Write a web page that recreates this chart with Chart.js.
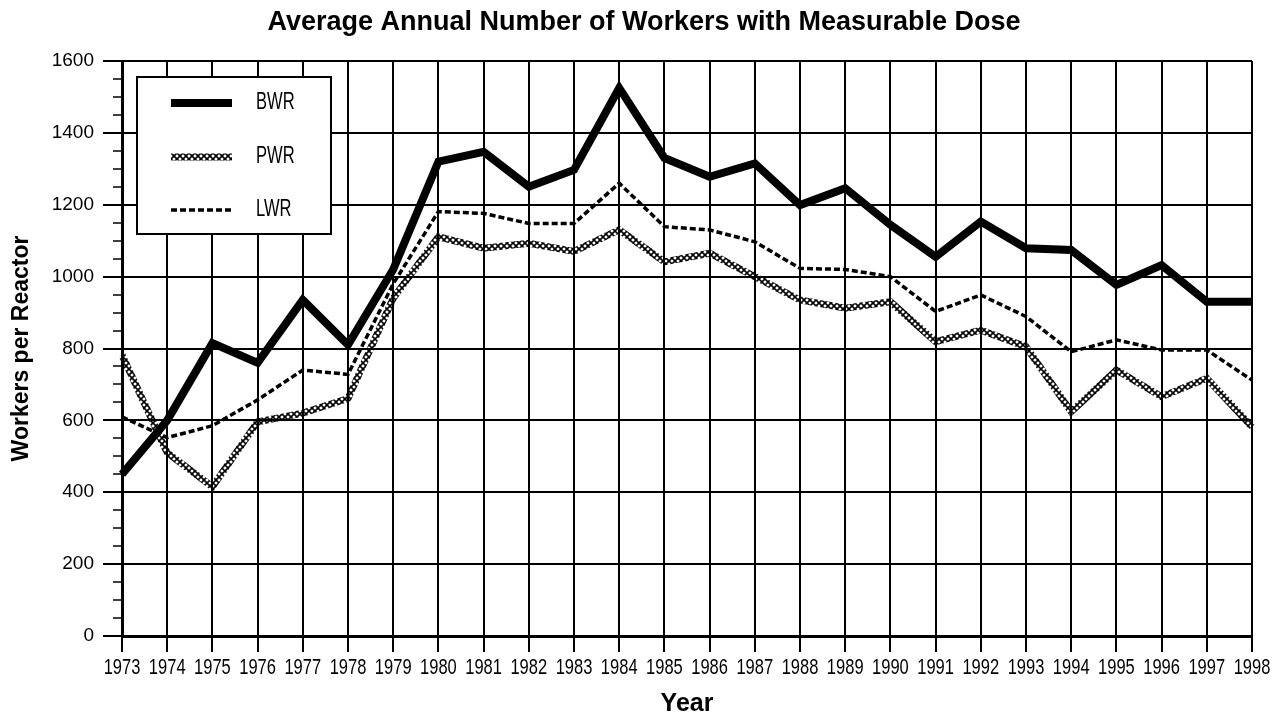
<!DOCTYPE html>
<html><head><meta charset="utf-8">
<script src="https://cdn.jsdelivr.net/npm/chart.js@4"></script>
<style>html,body{margin:0;padding:0;background:#fff}</style>
</head><body>
<canvas id="c" width="1288" height="719" style="display:block;width:1288px;height:719px"></canvas>
<script>
const years = ['1973','1974','1975','1976','1977','1978','1979','1980','1981','1982','1983','1984','1985','1986','1987','1988','1989','1990','1991','1992','1993','1994','1995','1996','1997','1998'];
const bwr = [450, 600, 815, 760, 935, 810, 1020, 1320, 1347, 1250, 1297, 1525, 1330, 1278, 1315, 1199, 1246, 1144, 1055, 1153, 1079, 1074, 977, 1032, 930, 930];
const pwr = [782, 510, 415, 596, 620, 661, 940, 1111, 1079, 1093, 1070, 1130, 1041, 1065, 1000, 935, 912, 930, 819, 851, 805, 624, 740, 666, 717, 582];
const lwr = [610, 552, 585, 657, 740, 728, 980, 1181, 1176, 1148, 1148, 1260, 1139, 1130, 1097, 1023, 1020, 1000, 903, 949, 889, 791, 824, 796, 796, 712];
const yTicks = [0, 200, 400, 600, 800, 1000, 1200, 1400, 1600];

const canvas = document.getElementById('c');
const ctx = canvas.getContext('2d');
const SANS = '"Liberation Sans", Arial, Helvetica, sans-serif';

function xPattern(){
  const t = document.createElement('canvas'); t.width = 6; t.height = 6;
  const g = t.getContext('2d');
  g.strokeStyle = '#000'; g.lineWidth = 1.6;
  g.beginPath(); g.moveTo(0,0); g.lineTo(6,6); g.moveTo(6,0); g.lineTo(0,6); g.stroke();
  return ctx.createPattern(t, 'repeat');
}
const pwrPat = xPattern();

function narrowText(c, text, x, y, size, squeeze, align){
  c.save();
  c.font = size + 'px ' + SANS;
  c.textBaseline = 'middle';
  c.textAlign = align;
  c.translate(x, y);
  c.scale(squeeze, 1);
  c.fillText(text, 0, 0);
  c.restore();
}

const legendPlugin = {
  id: 'boxLegend',
  afterDatasetsDraw(chart){
    const c = chart.ctx;
    c.save();
    c.fillStyle = '#fff';
    c.fillRect(137, 77, 194, 157);
    c.strokeStyle = '#000'; c.lineWidth = 2;
    c.strokeRect(137, 77, 194, 157);
    const rows = [103, 157, 210];
    chart.data.datasets.forEach((ds, i) => {
      const y = rows[i];
      c.save();
      c.strokeStyle = ds.borderColor;
      c.lineWidth = ds.borderWidth;
      c.setLineDash(ds.borderDash || []);
      c.beginPath(); c.moveTo(171, y); c.lineTo(232, y); c.stroke();
      c.restore();
      c.fillStyle = '#000';
      narrowText(c, ds.label, 256, y, 23, 0.72, 'left');
    });
    c.restore();
  }
};

const axisExtras = {
  id: 'axisExtras',
  afterDraw(chart){
    const s = chart.scales.y, x = chart.scales.x, c = chart.ctx;
    c.save(); c.strokeStyle = '#000'; c.lineWidth = 1.5;
    for (let v = s.min; v <= s.max; v += 50){
      if (v % 200 === 0) continue;
      const y = Math.round(s.getPixelForValue(v));
      c.beginPath(); c.moveTo(chart.chartArea.left - 9, y); c.lineTo(chart.chartArea.left, y); c.stroke();
    }
    c.fillStyle = '#000';
    x.ticks.forEach((t, i) => {
      narrowText(c, years[i], x.getPixelForTick(i), 668, 22, 0.75, 'center');
    });
    c.restore();
  }
};

new Chart(ctx, {
  type: 'line',
  data: {
    labels: years,
    datasets: [
      { label: 'BWR', data: bwr, borderColor: '#000', borderWidth: 8, pointRadius: 0, tension: 0, borderJoinStyle: 'miter' },
      { label: 'PWR', data: pwr, borderColor: pwrPat, borderWidth: 7, pointRadius: 0, tension: 0 },
      { label: 'LWR', data: lwr, borderColor: '#000', borderWidth: 3.5, borderDash: [6, 3], pointRadius: 0, tension: 0 }
    ]
  },
  options: {
    responsive: false,
    animation: false,
    devicePixelRatio: 1,
    layout: { padding: { left: 0, right: 0, top: 0, bottom: 0 } },
    plugins: {
      legend: { display: false },
      tooltip: { enabled: false },
      title: {
        display: true,
        text: 'Average Annual Number of Workers with Measurable Dose',
        color: '#000',
        font: { family: SANS, size: 27, weight: 'bold' },
        padding: { top: 6, bottom: 22.6 }
      }
    },
    scales: {
      x: {
        type: 'category',
        offset: false,
        grid: { color: '#000', lineWidth: 2, tickLength: 16, tickColor: '#000', tickWidth: 2 },
        border: { color: '#000', width: 3 },
        ticks: { color: 'rgba(0,0,0,0)', autoSkip: false, maxRotation: 0, padding: 3,
          font: { family: SANS, size: 17 } },
        title: { display: true, text: 'Year', color: '#000', padding: { top: 10, bottom: 0 },
          font: { family: SANS, size: 25, weight: 'bold' } },
        afterFit(s){ s.height = 83; }
      },
      y: {
        min: 0, max: 1600,
        afterBuildTicks(s){ s.ticks = yTicks.map(v => ({ value: v })); },
        grid: { color: '#000', lineWidth: 2, tickLength: 19, tickColor: '#000', tickWidth: 2 },
        border: { color: '#000', width: 3 },
        ticks: { color: '#000', padding: 9, callback: v => String(v),
          font: { family: SANS, size: 19 } },
        title: { display: true, text: 'Workers per Reactor', color: '#000', padding: { top: 8, bottom: 0 },
          font: { family: SANS, size: 23, weight: 'bold' } },
        afterFit(s){ s.width = 122; }
      },
      yRight: {
        position: 'right',
        min: 0, max: 1600,
        display: true,
        grid: { display: false, drawTicks: false },
        border: { display: false },
        ticks: { display: false },
        afterFit(s){ s.width = 36; }
      }
    }
  },
  plugins: [legendPlugin, axisExtras]
});
</script>
</body></html>
